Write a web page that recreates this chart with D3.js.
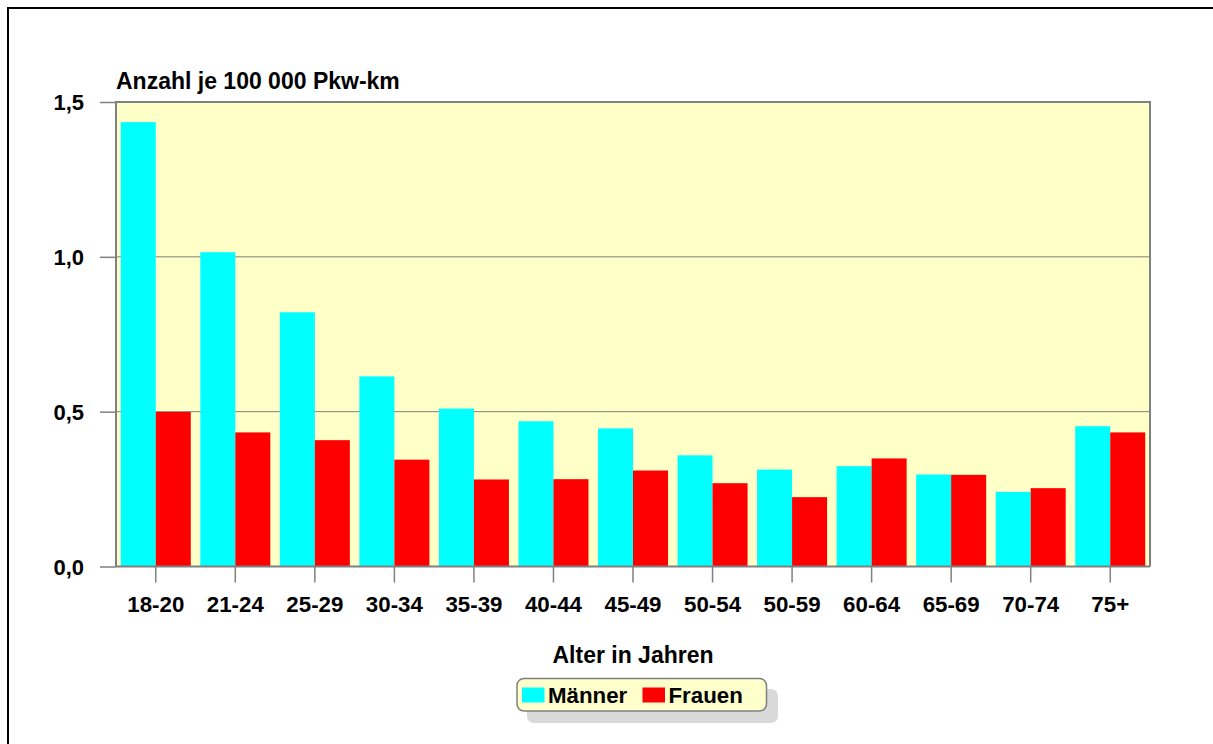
<!DOCTYPE html>
<html><head><meta charset="utf-8">
<script src="https://cdn.jsdelivr.net/npm/d3@7"></script>
<style>
html,body{margin:0;padding:0;background:#fff;}
svg{display:block;}
text{font-family:"Liberation Sans",Arial,sans-serif;font-weight:bold;fill:#000;}
</style></head>
<body>
<svg id="chart" width="1213" height="744"></svg>
<script>
const categories = ["18-20","21-24","25-29","30-34","35-39","40-44","45-49","50-54","50-59","60-64","65-69","70-74","75+"];
const maenner = [1.435,1.015,0.821,0.614,0.510,0.469,0.446,0.359,0.313,0.324,0.297,0.241,0.453];
const frauen  = [0.499,0.433,0.408,0.345,0.281,0.282,0.310,0.269,0.224,0.349,0.296,0.253,0.433];
const seriesNames = ["Männer","Frauen"];
const seriesColors = ["#00ffff","#ff0000"];
const yTicks = [0,0.5,1.0,1.5];
const yTitle = "Anzahl je 100 000 Pkw-km";
const xTitle = "Alter in Jahren";

const svg = d3.select("#chart");
const L=116, R=1150, T=102, B=566.5;

// outer frame
svg.append("path").attr("d","M8,744 L8,8 L1213,8").attr("fill","none").attr("stroke","#000").attr("stroke-width",2);

const x0 = d3.scaleBand().domain(categories).range([L,R]).paddingInner(0).paddingOuter(0);
const x1 = d3.scaleBand().domain(seriesNames).range([0,x0.bandwidth()]).paddingInner(0).paddingOuter(0.136);
const y = d3.scaleLinear().domain([0,1.5]).range([B,T]);

// plot background
svg.append("rect").attr("x",L).attr("y",T).attr("width",R-L).attr("height",B-T).attr("fill","#ffffc8");

// gridlines
svg.append("g").selectAll("line").data(yTicks.filter(d=>d>0)).join("line")
  .attr("x1",L).attr("x2",R).attr("y1",d=>y(d)).attr("y2",d=>y(d))
  .attr("stroke","#808080").attr("stroke-width",1);

// bars
const data = categories.map((c,i)=>({cat:c, vals:[maenner[i],frauen[i]]}));
const g = svg.append("g").selectAll("g").data(data).join("g")
  .attr("transform",d=>`translate(${x0(d.cat)},0)`);
g.selectAll("rect").data(d=>d.vals.map((v,j)=>({name:seriesNames[j],v,j}))).join("rect")
  .attr("x",d=>x1(d.name)).attr("width",x1.bandwidth())
  .attr("y",d=>y(d.v)).attr("height",d=>y(0)-y(d.v))
  .attr("fill",d=>seriesColors[d.j]);

// plot border (left, top, right)
svg.append("path").attr("d",`M${L},${B} L${L},${T} L${R},${T} L${R},${B}`)
  .attr("fill","none").attr("stroke","#808080").attr("stroke-width",2);

// y axis
const yAxis = d3.axisLeft(y).tickValues(yTicks).tickSize(16).tickPadding(16)
  .tickFormat(d=>d3.format(".1f")(d).replace(".",","));
const ya = svg.append("g").attr("transform",`translate(${L},0)`).call(yAxis);
ya.select(".domain").remove();
ya.selectAll("line").attr("stroke","#808080").attr("stroke-width",1.5);
ya.selectAll("text").attr("font-size",22).attr("font-family","Liberation Sans, Arial, sans-serif").attr("font-weight","bold").attr("dy","0.36em");

// x axis
const xAxis = d3.axisBottom(x0).tickSize(16).tickPadding(14);
const xa = svg.append("g").attr("transform",`translate(0,${B})`).call(xAxis);
xa.select(".domain").attr("stroke","#808080").attr("stroke-width",2).attr("d",`M${L},0H${R}`);
xa.selectAll("line").attr("stroke","#808080").attr("stroke-width",1.5);
xa.selectAll("text").attr("font-size",22.3).attr("font-family","Liberation Sans, Arial, sans-serif").attr("font-weight","bold");

// titles
svg.append("text").attr("x",116).attr("y",89).attr("font-size",23).text(yTitle);
svg.append("text").attr("x",633).attr("y",662.5).attr("text-anchor","middle").attr("font-size",23).text(xTitle);

// legend
const lg = svg.append("g");
lg.append("rect").attr("x",527).attr("y",689).attr("width",251).attr("height",34).attr("rx",7).attr("fill","#d9d9d9");
lg.append("rect").attr("x",517).attr("y",678.5).attr("width",249.5).attr("height",32.5).attr("rx",7)
  .attr("fill","#ffffcc").attr("stroke","#808080").attr("stroke-width",1.5);
const legX = [522,642.5];
seriesNames.forEach((n,i)=>{
  lg.append("rect").attr("x",legX[i]).attr("y",687.5).attr("width",22.5).attr("height",15).attr("fill",seriesColors[i]);
  lg.append("text").attr("x",legX[i]+26).attr("y",702.5).attr("font-size",22.3).text(n);
});
</script>
</body></html>
